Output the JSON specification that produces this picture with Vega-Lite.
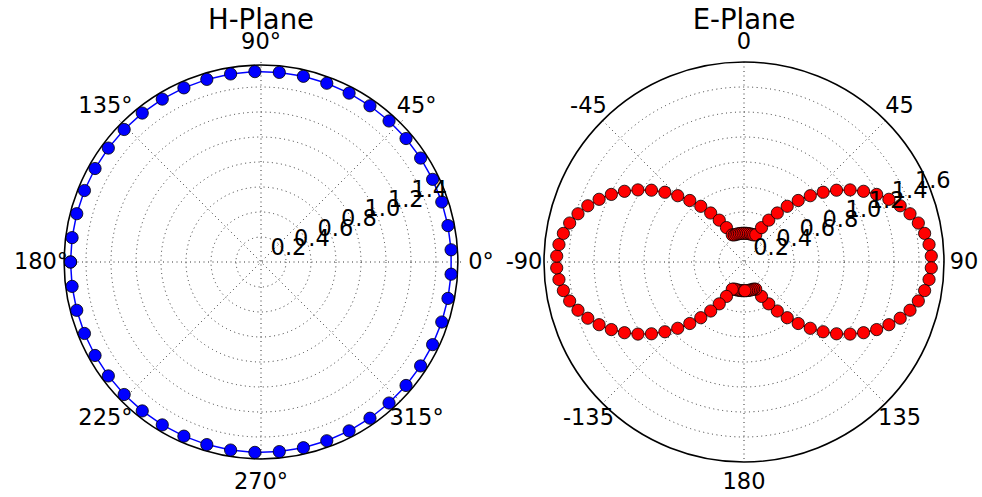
{
  "$schema": "https://vega.github.io/schema/vega-lite/v6.json",
  "background": "white",
  "padding": {"left": 13, "top": 6, "right": 0, "bottom": 0},
  "bounds": "flush",
  "spacing": 83,
  "config": {"view": {"stroke": null}, "font": "DejaVu Sans"},
  "datasets": {
    "hdata": [
      {"a": -180, "r": 1.5}, {"a": -172.65, "r": 1.5}, {"a": -165.31, "r": 1.5}, {"a": -157.96, "r": 1.5}, {"a": -150.61, "r": 1.5},
      {"a": -143.27, "r": 1.5}, {"a": -135.92, "r": 1.5}, {"a": -128.57, "r": 1.5}, {"a": -121.22, "r": 1.5}, {"a": -113.88, "r": 1.5},
      {"a": -106.53, "r": 1.5}, {"a": -99.18, "r": 1.5}, {"a": -91.84, "r": 1.5}, {"a": -84.49, "r": 1.5}, {"a": -77.14, "r": 1.5},
      {"a": -69.8, "r": 1.5}, {"a": -62.45, "r": 1.5}, {"a": -55.1, "r": 1.5}, {"a": -47.76, "r": 1.5}, {"a": -40.41, "r": 1.5},
      {"a": -33.06, "r": 1.5}, {"a": -25.71, "r": 1.5}, {"a": -18.37, "r": 1.5}, {"a": -11.02, "r": 1.5}, {"a": -3.67, "r": 1.5},
      {"a": 3.67, "r": 1.5}, {"a": 11.02, "r": 1.5}, {"a": 18.37, "r": 1.5}, {"a": 25.71, "r": 1.5}, {"a": 33.06, "r": 1.5},
      {"a": 40.41, "r": 1.5}, {"a": 47.76, "r": 1.5}, {"a": 55.1, "r": 1.5}, {"a": 62.45, "r": 1.5}, {"a": 69.8, "r": 1.5},
      {"a": 77.14, "r": 1.5}, {"a": 84.49, "r": 1.5}, {"a": 91.84, "r": 1.5}, {"a": 99.18, "r": 1.5}, {"a": 106.53, "r": 1.5},
      {"a": 113.88, "r": 1.5}, {"a": 121.22, "r": 1.5}, {"a": 128.57, "r": 1.5}, {"a": 135.92, "r": 1.5}, {"a": 143.27, "r": 1.5},
      {"a": 150.61, "r": 1.5}, {"a": 157.96, "r": 1.5}, {"a": 165.31, "r": 1.5}, {"a": 172.65, "r": 1.5}, {"a": 180, "r": 1.5}
    ],
    "edata": [
      {"a": -178.2, "r": 0.23}, {"a": -174.6, "r": 0.23}, {"a": -171.0, "r": 0.23}, {"a": -167.4, "r": 0.23}, {"a": -163.8, "r": 0.23},
      {"a": -160.2, "r": 0.23}, {"a": -156.6, "r": 0.237}, {"a": -153.0, "r": 0.309}, {"a": -149.4, "r": 0.389}, {"a": -145.8, "r": 0.474},
      {"a": -142.2, "r": 0.564}, {"a": -138.6, "r": 0.656}, {"a": -135.0, "r": 0.75}, {"a": -131.4, "r": 0.844}, {"a": -127.8, "r": 0.937},
      {"a": -124.2, "r": 1.026}, {"a": -120.6, "r": 1.111}, {"a": -117.0, "r": 1.191}, {"a": -113.4, "r": 1.263}, {"a": -109.8, "r": 1.328},
      {"a": -106.2, "r": 1.383}, {"a": -102.6, "r": 1.429}, {"a": -99.0, "r": 1.463}, {"a": -95.4, "r": 1.487}, {"a": -91.8, "r": 1.499},
      {"a": -88.2, "r": 1.499}, {"a": -84.6, "r": 1.487}, {"a": -81.0, "r": 1.463}, {"a": -77.4, "r": 1.429}, {"a": -73.8, "r": 1.383},
      {"a": -70.2, "r": 1.328}, {"a": -66.6, "r": 1.263}, {"a": -63.0, "r": 1.191}, {"a": -59.4, "r": 1.111}, {"a": -55.8, "r": 1.026},
      {"a": -52.2, "r": 0.937}, {"a": -48.6, "r": 0.844}, {"a": -45.0, "r": 0.75}, {"a": -41.4, "r": 0.656}, {"a": -37.8, "r": 0.564},
      {"a": -34.2, "r": 0.474}, {"a": -30.6, "r": 0.389}, {"a": -27.0, "r": 0.309}, {"a": -23.4, "r": 0.237}, {"a": -19.8, "r": 0.23},
      {"a": -16.2, "r": 0.23}, {"a": -12.6, "r": 0.23}, {"a": -9.0, "r": 0.23}, {"a": -5.4, "r": 0.23}, {"a": -1.8, "r": 0.23},
      {"a": 1.8, "r": 0.23}, {"a": 5.4, "r": 0.23}, {"a": 9.0, "r": 0.23}, {"a": 12.6, "r": 0.23}, {"a": 16.2, "r": 0.23},
      {"a": 19.8, "r": 0.23}, {"a": 23.4, "r": 0.237}, {"a": 27.0, "r": 0.309}, {"a": 30.6, "r": 0.389}, {"a": 34.2, "r": 0.474},
      {"a": 37.8, "r": 0.564}, {"a": 41.4, "r": 0.656}, {"a": 45.0, "r": 0.75}, {"a": 48.6, "r": 0.844}, {"a": 52.2, "r": 0.937},
      {"a": 55.8, "r": 1.026}, {"a": 59.4, "r": 1.111}, {"a": 63.0, "r": 1.191}, {"a": 66.6, "r": 1.263}, {"a": 70.2, "r": 1.328},
      {"a": 73.8, "r": 1.383}, {"a": 77.4, "r": 1.429}, {"a": 81.0, "r": 1.463}, {"a": 84.6, "r": 1.487}, {"a": 88.2, "r": 1.499},
      {"a": 91.8, "r": 1.499}, {"a": 95.4, "r": 1.487}, {"a": 99.0, "r": 1.463}, {"a": 102.6, "r": 1.429}, {"a": 106.2, "r": 1.383},
      {"a": 109.8, "r": 1.328}, {"a": 113.4, "r": 1.263}, {"a": 117.0, "r": 1.191}, {"a": 120.6, "r": 1.111}, {"a": 124.2, "r": 1.026},
      {"a": 127.8, "r": 0.937}, {"a": 131.4, "r": 0.844}, {"a": 135.0, "r": 0.75}, {"a": 138.6, "r": 0.656}, {"a": 142.2, "r": 0.564},
      {"a": 145.8, "r": 0.474}, {"a": 149.4, "r": 0.389}, {"a": 153.0, "r": 0.309}, {"a": 156.6, "r": 0.237}, {"a": 160.2, "r": 0.23},
      {"a": 163.8, "r": 0.23}, {"a": 167.4, "r": 0.23}, {"a": 171.0, "r": 0.23}, {"a": 174.6, "r": 0.23}, {"a": 178.2, "r": 0.23}
    ],
    "hgrid": [{"g": 0.2}, {"g": 0.4}, {"g": 0.6}, {"g": 0.8}, {"g": 1.0}, {"g": 1.2}, {"g": 1.4}],
    "egrid": [{"g": 0.2}, {"g": 0.4}, {"g": 0.6}, {"g": 0.8}, {"g": 1.0}, {"g": 1.2}, {"g": 1.4}],
    "spokes": [{"a": 0}, {"a": 45}, {"a": 90}, {"a": 135}],
    "hlab": [
      {"a": 0, "t": "0°"}, {"a": 45, "t": "45°"}, {"a": 90, "t": "90°"}, {"a": 135, "t": "135°"},
      {"a": 180, "t": "180°"}, {"a": 225, "t": "225°"}, {"a": 270, "t": "270°"}, {"a": 315, "t": "315°"}
    ],
    "elab": [
      {"a": 0, "t": "0"}, {"a": 45, "t": "45"}, {"a": 90, "t": "90"}, {"a": 135, "t": "135"},
      {"a": 180, "t": "180"}, {"a": -135, "t": "-135"}, {"a": -90, "t": "-90"}, {"a": -45, "t": "-45"}
    ],
    "hrl": [
      {"v": 0.2, "t": "0.2"}, {"v": 0.4, "t": "0.4"}, {"v": 0.6, "t": "0.6"}, {"v": 0.8, "t": "0.8"},
      {"v": 1.0, "t": "1.0"}, {"v": 1.2, "t": "1.2"}, {"v": 1.4, "t": "1.4"}
    ],
    "erl": [
      {"v": 0.2, "t": "0.2"}, {"v": 0.4, "t": "0.4"}, {"v": 0.6, "t": "0.6"}, {"v": 0.8, "t": "0.8"},
      {"v": 1.0, "t": "1.0"}, {"v": 1.2, "t": "1.2"}, {"v": 1.4, "t": "1.4"}, {"v": 1.6, "t": "1.6"}
    ]
  },
  "hconcat": [
    {
      "width": 400,
      "height": 400,
      "title": {"text": "H-Plane", "fontSize": 27.5, "fontWeight": "normal", "font": "DejaVu Sans", "color": "black", "anchor": "middle", "offset": -3},
      "layer": [
        {
          "data": {"name": "hgrid"},
          "mark": {"type": "point", "shape": "circle", "filled": false, "stroke": "#333333", "strokeWidth": 1, "strokeDash": [1, 3.5], "opacity": 1},
          "encoding": {
            "x": {"datum": 0, "type": "quantitative", "axis": null, "scale": {"domain": [-1.575, 1.575], "nice": false, "zero": false}},
            "y": {"datum": 0, "type": "quantitative", "axis": null, "scale": {"domain": [-1.575, 1.575], "nice": false, "zero": false}},
            "size": {"field": "g", "type": "quantitative", "legend": null, "scale": {"type": "pow", "exponent": 2, "domain": [0, 1.575], "range": [0, 160000], "zero": true, "nice": false}}
          }
        },
        {
          "data": {"name": "spokes"},
          "transform": [
            {"calculate": "1.575*cos(datum.a*PI/180)", "as": "x"},
            {"calculate": "1.575*sin(datum.a*PI/180)", "as": "y"},
            {"calculate": "-datum.x", "as": "x2"},
            {"calculate": "-datum.y", "as": "y2"}
          ],
          "mark": {"type": "rule", "stroke": "#333333", "strokeWidth": 1, "strokeDash": [1, 3.5]},
          "encoding": {
            "x": {"field": "x", "type": "quantitative", "axis": null, "scale": {"domain": [-1.575, 1.575], "nice": false, "zero": false}},
            "y": {"field": "y", "type": "quantitative", "axis": null, "scale": {"domain": [-1.575, 1.575], "nice": false, "zero": false}},
            "x2": {"field": "x2"},
            "y2": {"field": "y2"}
          }
        },
        {
          "data": {"values": [{"g": 1.575}]},
          "mark": {"type": "point", "shape": "circle", "filled": false, "stroke": "black", "strokeWidth": 1.6, "opacity": 1},
          "encoding": {
            "x": {"datum": 0, "type": "quantitative", "axis": null, "scale": {"domain": [-1.575, 1.575], "nice": false, "zero": false}},
            "y": {"datum": 0, "type": "quantitative", "axis": null, "scale": {"domain": [-1.575, 1.575], "nice": false, "zero": false}},
            "size": {"field": "g", "type": "quantitative", "legend": null, "scale": {"type": "pow", "exponent": 2, "domain": [0, 1.575], "range": [0, 160000], "zero": true, "nice": false}}
          }
        },
        {
          "data": {"name": "hdata"},
          "transform": [
            {"calculate": "datum.r*cos(datum.a*PI/180)", "as": "x"},
            {"calculate": "datum.r*sin(datum.a*PI/180)", "as": "y"}
          ],
          "layer": [
            {
              "mark": {"type": "line", "stroke": "#0000ff", "strokeWidth": 1.5},
              "encoding": {
                "x": {"field": "x", "type": "quantitative", "axis": null, "scale": {"domain": [-1.575, 1.575], "nice": false, "zero": false}},
                "y": {"field": "y", "type": "quantitative", "axis": null, "scale": {"domain": [-1.575, 1.575], "nice": false, "zero": false}},
                "order": {"field": "a", "type": "quantitative"}
              }
            },
            {
              "mark": {"type": "point", "shape": "circle", "filled": true, "fill": "#0000ff", "stroke": "black", "strokeWidth": 0.8, "size": 150, "opacity": 1, "fillOpacity": 1},
              "encoding": {
                "x": {"field": "x", "type": "quantitative", "axis": null, "scale": {"domain": [-1.575, 1.575], "nice": false, "zero": false}},
                "y": {"field": "y", "type": "quantitative", "axis": null, "scale": {"domain": [-1.575, 1.575], "nice": false, "zero": false}}
              }
            }
          ]
        },
        {
          "data": {"name": "hlab"},
          "transform": [
            {"calculate": "1.7325*cos(datum.a*PI/180)", "as": "x"},
            {"calculate": "1.7325*sin(datum.a*PI/180)", "as": "y"}
          ],
          "mark": {"type": "text", "fontSize": 22.5, "font": "DejaVu Sans", "align": "center", "baseline": "middle", "color": "black"},
          "encoding": {
            "x": {"field": "x", "type": "quantitative", "axis": null, "scale": {"domain": [-1.575, 1.575], "nice": false, "zero": false}},
            "y": {"field": "y", "type": "quantitative", "axis": null, "scale": {"domain": [-1.575, 1.575], "nice": false, "zero": false}},
            "text": {"field": "t"}
          }
        },
        {
          "data": {"name": "hrl"},
          "transform": [
            {"calculate": "datum.v*0.92388", "as": "x"},
            {"calculate": "datum.v*0.38268", "as": "y"}
          ],
          "mark": {"type": "text", "fontSize": 22.5, "font": "DejaVu Sans", "align": "center", "baseline": "middle", "color": "black", "dx": 4, "dy": -4},
          "encoding": {
            "x": {"field": "x", "type": "quantitative", "axis": null, "scale": {"domain": [-1.575, 1.575], "nice": false, "zero": false}},
            "y": {"field": "y", "type": "quantitative", "axis": null, "scale": {"domain": [-1.575, 1.575], "nice": false, "zero": false}},
            "text": {"field": "t"}
          }
        }
      ]
    },
    {
      "width": 400,
      "height": 400,
      "title": {"text": "E-Plane", "fontSize": 27.5, "fontWeight": "normal", "font": "DejaVu Sans", "color": "black", "anchor": "middle", "offset": -3},
      "layer": [
        {
          "data": {"name": "egrid"},
          "mark": {"type": "point", "shape": "circle", "filled": false, "stroke": "#333333", "strokeWidth": 1, "strokeDash": [1, 3.5], "opacity": 1},
          "encoding": {
            "x": {"datum": 0, "type": "quantitative", "axis": null, "scale": {"domain": [-1.6, 1.6], "nice": false, "zero": false}},
            "y": {"datum": 0, "type": "quantitative", "axis": null, "scale": {"domain": [-1.6, 1.6], "nice": false, "zero": false}},
            "size": {"field": "g", "type": "quantitative", "legend": null, "scale": {"type": "pow", "exponent": 2, "domain": [0, 1.6], "range": [0, 160000], "zero": true, "nice": false}}
          }
        },
        {
          "data": {"name": "spokes"},
          "transform": [
            {"calculate": "1.6*cos(datum.a*PI/180)", "as": "x"},
            {"calculate": "1.6*sin(datum.a*PI/180)", "as": "y"},
            {"calculate": "-datum.x", "as": "x2"},
            {"calculate": "-datum.y", "as": "y2"}
          ],
          "mark": {"type": "rule", "stroke": "#333333", "strokeWidth": 1, "strokeDash": [1, 3.5]},
          "encoding": {
            "x": {"field": "x", "type": "quantitative", "axis": null, "scale": {"domain": [-1.6, 1.6], "nice": false, "zero": false}},
            "y": {"field": "y", "type": "quantitative", "axis": null, "scale": {"domain": [-1.6, 1.6], "nice": false, "zero": false}},
            "x2": {"field": "x2"},
            "y2": {"field": "y2"}
          }
        },
        {
          "data": {"values": [{"g": 1.6}]},
          "mark": {"type": "point", "shape": "circle", "filled": false, "stroke": "black", "strokeWidth": 1.6, "opacity": 1},
          "encoding": {
            "x": {"datum": 0, "type": "quantitative", "axis": null, "scale": {"domain": [-1.6, 1.6], "nice": false, "zero": false}},
            "y": {"datum": 0, "type": "quantitative", "axis": null, "scale": {"domain": [-1.6, 1.6], "nice": false, "zero": false}},
            "size": {"field": "g", "type": "quantitative", "legend": null, "scale": {"type": "pow", "exponent": 2, "domain": [0, 1.6], "range": [0, 160000], "zero": true, "nice": false}}
          }
        },
        {
          "data": {"name": "edata"},
          "transform": [
            {"calculate": "datum.r*sin(datum.a*PI/180)", "as": "x"},
            {"calculate": "datum.r*cos(datum.a*PI/180)", "as": "y"}
          ],
          "layer": [
            {
              "mark": {"type": "line", "stroke": "#ff0000", "strokeWidth": 1.5},
              "encoding": {
                "x": {"field": "x", "type": "quantitative", "axis": null, "scale": {"domain": [-1.6, 1.6], "nice": false, "zero": false}},
                "y": {"field": "y", "type": "quantitative", "axis": null, "scale": {"domain": [-1.6, 1.6], "nice": false, "zero": false}},
                "order": {"field": "a", "type": "quantitative"}
              }
            },
            {
              "mark": {"type": "point", "shape": "circle", "filled": true, "fill": "#ff0000", "stroke": "black", "strokeWidth": 0.8, "size": 150, "opacity": 1, "fillOpacity": 1},
              "encoding": {
                "x": {"field": "x", "type": "quantitative", "axis": null, "scale": {"domain": [-1.6, 1.6], "nice": false, "zero": false}},
                "y": {"field": "y", "type": "quantitative", "axis": null, "scale": {"domain": [-1.6, 1.6], "nice": false, "zero": false}}
              }
            }
          ]
        },
        {
          "data": {"name": "elab"},
          "transform": [
            {"calculate": "1.76*sin(datum.a*PI/180)", "as": "x"},
            {"calculate": "1.76*cos(datum.a*PI/180)", "as": "y"}
          ],
          "mark": {"type": "text", "fontSize": 22.5, "font": "DejaVu Sans", "align": "center", "baseline": "middle", "color": "black"},
          "encoding": {
            "x": {"field": "x", "type": "quantitative", "axis": null, "scale": {"domain": [-1.6, 1.6], "nice": false, "zero": false}},
            "y": {"field": "y", "type": "quantitative", "axis": null, "scale": {"domain": [-1.6, 1.6], "nice": false, "zero": false}},
            "text": {"field": "t"}
          }
        },
        {
          "data": {"name": "erl"},
          "transform": [
            {"calculate": "datum.v*0.92388", "as": "x"},
            {"calculate": "datum.v*0.38268", "as": "y"}
          ],
          "mark": {"type": "text", "fontSize": 22.5, "font": "DejaVu Sans", "align": "center", "baseline": "middle", "color": "black", "dx": 4, "dy": -4},
          "encoding": {
            "x": {"field": "x", "type": "quantitative", "axis": null, "scale": {"domain": [-1.6, 1.6], "nice": false, "zero": false}},
            "y": {"field": "y", "type": "quantitative", "axis": null, "scale": {"domain": [-1.6, 1.6], "nice": false, "zero": false}},
            "text": {"field": "t"}
          }
        }
      ]
    }
  ]
}
